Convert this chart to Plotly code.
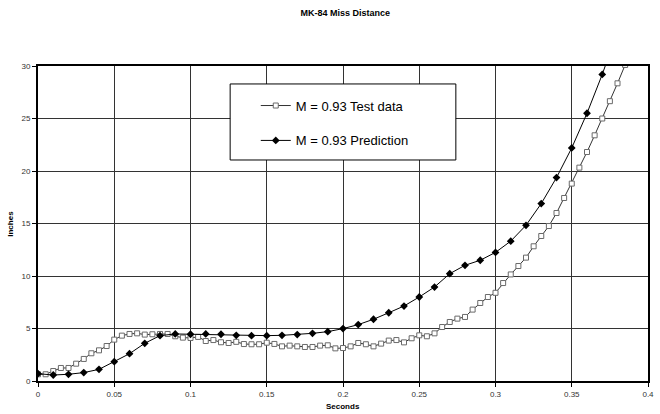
import plotly.graph_objects as go

# Miss distance vs time, measured at 0.005 s intervals
t_test = [0.000, 0.005, 0.010, 0.015, 0.020, 0.025, 0.030, 0.035, 0.040, 0.045,
          0.050, 0.055, 0.060, 0.065, 0.070, 0.075, 0.080, 0.085, 0.090, 0.095,
          0.100, 0.105, 0.110, 0.115, 0.120, 0.125, 0.130, 0.135, 0.140, 0.145,
          0.150, 0.155, 0.160, 0.165, 0.170, 0.175, 0.180, 0.185, 0.190, 0.195,
          0.200, 0.205, 0.210, 0.215, 0.220, 0.225, 0.230, 0.235, 0.240, 0.245,
          0.250, 0.255, 0.260, 0.265, 0.270, 0.275, 0.280, 0.285, 0.290, 0.295,
          0.300, 0.305, 0.310, 0.315, 0.320, 0.325, 0.330, 0.335, 0.340, 0.345,
          0.350, 0.355, 0.360, 0.365, 0.370, 0.375, 0.380, 0.385]
y_test = [0.64, 0.64, 0.95, 1.24, 1.24, 1.65, 2.10, 2.64, 2.92, 3.33,
          3.94, 4.32, 4.48, 4.54, 4.42, 4.45, 4.48, 4.48, 4.26, 4.13,
          4.10, 4.20, 3.81, 3.90, 3.69, 3.62, 3.73, 3.52, 3.50, 3.50,
          3.65, 3.53, 3.30, 3.37, 3.30, 3.24, 3.24, 3.37, 3.40, 3.11,
          3.14, 3.30, 3.62, 3.50, 3.30, 3.56, 3.85, 3.90, 3.68, 4.07,
          4.35, 4.26, 4.54, 5.14, 5.62, 5.94, 6.10, 6.80, 7.43, 8.00,
          8.40, 9.33, 10.15, 10.95, 11.75, 12.83, 13.81, 14.76, 16.00, 17.43,
          18.80, 20.32, 21.81, 23.40, 25.00, 26.65, 28.35, 30.10]

# Predicted miss distance at 0.01 s intervals
t_pred = [0.00, 0.01, 0.02, 0.03, 0.04, 0.05, 0.06, 0.07, 0.08, 0.09,
          0.10, 0.11, 0.12, 0.13, 0.14, 0.15, 0.16, 0.17, 0.18, 0.19,
          0.20, 0.21, 0.22, 0.23, 0.24, 0.25, 0.26, 0.27, 0.28, 0.29,
          0.30, 0.31, 0.32, 0.33, 0.34, 0.35, 0.36, 0.37, 0.38]
y_pred = [0.70, 0.57, 0.64, 0.80, 1.11, 1.84, 2.60, 3.59, 4.32, 4.48,
          4.45, 4.48, 4.45, 4.35, 4.32, 4.32, 4.35, 4.42, 4.54, 4.70,
          4.99, 5.37, 5.88, 6.50, 7.14, 8.00, 8.95, 10.22, 11.02, 11.50,
          12.25, 13.32, 14.83, 16.90, 19.37, 22.20, 25.50, 29.20, 33.30]

x_ticks = [0, 0.05, 0.1, 0.15, 0.2, 0.25, 0.3, 0.35, 0.4]
x_tick_text = ["0", "0.05", "0.1", "0.15", "0.2", "0.25", "0.3", "0.35", "0.4"]
y_ticks = [0, 5, 10, 15, 20, 25, 30]

FONT = "Liberation Sans, Arial, sans-serif"

fig = go.Figure()
fig.add_trace(go.Scatter(
    x=t_test, y=y_test, mode="lines+markers", name="M = 0.93 Test data",
    legendgroup="a",
    line=dict(color="#333333", width=1),
    marker=dict(symbol="square", size=5, color="white",
                line=dict(color="#6a6a6a", width=1)),
))
fig.add_trace(go.Scatter(
    x=t_pred, y=y_pred, mode="lines+markers", name="M = 0.93 Prediction",
    legendgroup="b",
    line=dict(color="black", width=1),
    marker=dict(symbol="diamond", size=6, color="black"),
))

axis_common = dict(
    showgrid=True, gridcolor="#333333", gridwidth=1,
    showline=True, linecolor="black", linewidth=2, mirror=True,
    zeroline=False, ticks="outside", ticklen=4, tickcolor="black",
    tickfont=dict(family=FONT, size=8, color="#333333"),
)

fig.update_xaxes(range=[0, 0.4], tickvals=x_ticks, ticktext=x_tick_text, **axis_common)
fig.update_yaxes(range=[0, 30], tickvals=y_ticks, **axis_common)

# Legend frame
fig.add_shape(type="rect", xref="paper", yref="paper",
              x0=0.315, x1=0.685, y0=0.7016, y1=0.943,
              fillcolor="white", line=dict(color="black", width=1), layer="above")

fig.add_annotation(text="<b>Inches</b>", xref="paper", yref="paper",
                   x=-0.0455, y=0.5, textangle=-90, showarrow=False,
                   xanchor="center", yanchor="middle",
                   font=dict(family=FONT, size=8, color="black"))
fig.add_annotation(text="<b>Seconds</b>", xref="paper", yref="paper",
                   x=0.5, y=-0.0825, showarrow=False,
                   xanchor="center", yanchor="middle",
                   font=dict(family=FONT, size=8, color="black"))

fig.update_layout(
    width=660, height=414, autosize=False,
    margin=dict(l=38, r=6, t=66, b=33),
    paper_bgcolor="white", plot_bgcolor="white",
    title=dict(text="<b>MK-84 Miss Distance</b>", x=0.523, xanchor="center",
               y=1 - 13 / 414, yanchor="middle", yref="container",
               font=dict(family=FONT, size=9, color="black")),
    showlegend=True,
    legend=dict(x=0.357, y=0.922, xanchor="left", yanchor="top",
                bgcolor="rgba(0,0,0,0)", borderwidth=0,
                tracegroupgap=15, traceorder="grouped",
                font=dict(family=FONT, size=13, color="black")),
    hovermode=False,
)

fig.write_html("out.html")
